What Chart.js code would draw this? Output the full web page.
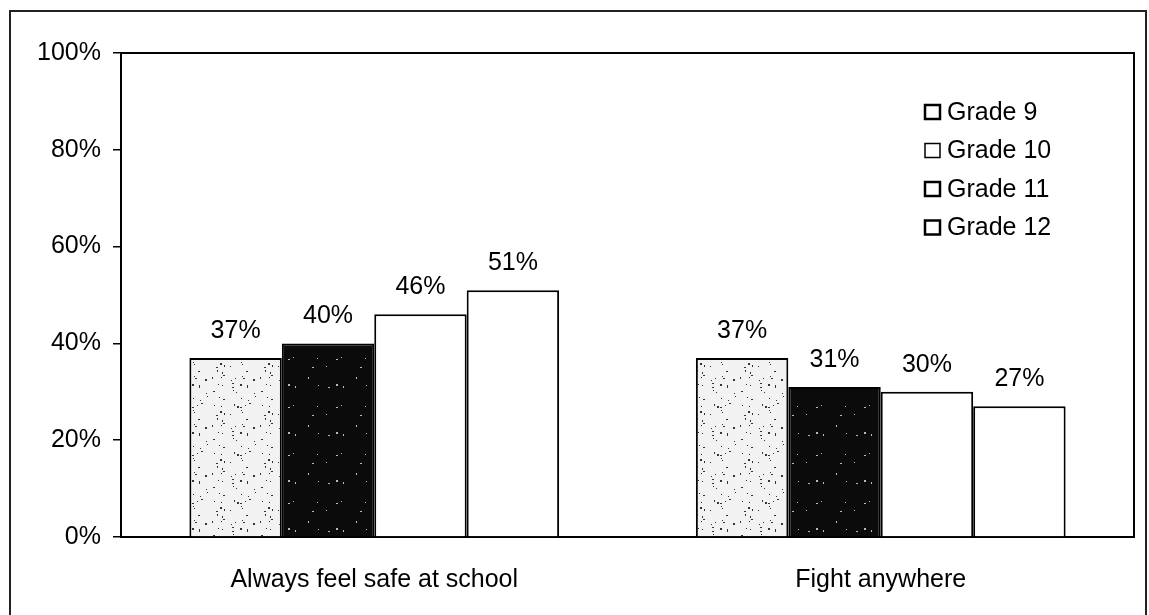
<!DOCTYPE html>
<html>
<head>
<meta charset="utf-8">
<script src="https://cdn.jsdelivr.net/npm/chart.js@4.4.1/dist/chart.umd.min.js"></script>
<style>
  html, body { margin: 0; padding: 0; background: #fff; overflow: hidden; }
  #wrap { position: relative; width: 1149px; height: 615px; }
  #frame { position: absolute; left: 9px; top: 10px; width: 1138px; height: 700px; border: 2px solid #222; box-sizing: border-box; }
  canvas { position: absolute; left: 0; top: 0; }
</style>
</head>
<body>
<div id="wrap">
  <div id="frame"></div>
  <canvas id="c" width="1149" height="615"></canvas>
</div>
<script>
const categories = ['Always feel safe at school', 'Fight anywhere'];
const seriesLabels = ['Grade 9', 'Grade 10', 'Grade 11', 'Grade 12'];
const grade9 = [37, 37];
const grade10 = [40, 31];
const grade11 = [46, 30];
const grade12 = [51, 27];
const yTicks = [0, 20, 40, 60, 80, 100];

function speckle(bg, dot, n) {
  const p = document.createElement('canvas');
  p.width = 48; p.height = 48;
  const g = p.getContext('2d');
  g.fillStyle = bg; g.fillRect(0, 0, 48, 48);
  g.fillStyle = dot;
  for (let i = 0; i < n; i++) {
    const x = (i * 37 + (i * i) % 13) % 48;
    const y = (i * 23 + (i * 7) % 11) % 48;
    g.fillRect(x, y, 1 + (i % 3 === 0 ? 1 : 0), 1 + (i % 4 === 0 ? 1 : 0));
  }
  return g.createPattern(p, 'repeat');
}
const ctx = document.getElementById('c').getContext('2d');
const fills = [speckle('#f2f2f2', '#333', 40), speckle('#0b0b0b', '#bbb', 10), '#ffffff', '#ffffff'];

const FONT = "'Liberation Sans', Arial, sans-serif";

const framePlugin = {
  id: 'framePlugin',
  afterDraw(chart) {
    const a = chart.chartArea, c = chart.ctx;
    c.save();
    c.strokeStyle = '#000'; c.lineWidth = 2;
    c.beginPath();
    c.moveTo(a.left, a.top); c.lineTo(a.right, a.top); c.lineTo(a.right, a.bottom);
    c.stroke();
    c.restore();
  }
};

const valueLabels = {
  id: 'valueLabels',
  afterDatasetsDraw(chart) {
    const c = chart.ctx;
    c.save();
    c.font = '25px ' + FONT; c.fillStyle = '#000';
    c.textAlign = 'center'; c.textBaseline = 'alphabetic';
    chart.data.datasets.forEach((ds, i) => {
      chart.getDatasetMeta(i).data.forEach((bar, j) => {
        c.fillText(ds.data[j] + '%', bar.x, bar.y - 20);
      });
    });
    c.restore();
  }
};

const customLegend = {
  id: 'customLegend',
  afterDraw(chart) {
    const c = chart.ctx;
    c.save();
    c.font = '25px ' + FONT; c.fillStyle = '#000';
    c.textBaseline = 'middle'; c.textAlign = 'left';
    chart.data.datasets.forEach((ds, i) => {
      const y = 112 + i * 38.5;
      c.fillStyle = '#fff';
      c.fillRect(925, y - 7, 15, 14);
      c.strokeStyle = '#000'; c.lineWidth = i === 1 ? 1.5 : 2.5;
      c.strokeRect(925, y - 7, 15, 14);
      c.fillStyle = '#000';
      c.fillText(ds.label, 947, y + 1);
    });
    c.restore();
  }
};

new Chart(ctx, {
  type: 'bar',
  data: {
    labels: categories,
    datasets: [
      { label: seriesLabels[0], data: grade9, backgroundColor: fills[0] },
      { label: seriesLabels[1], data: grade10, backgroundColor: fills[1] },
      { label: seriesLabels[2], data: grade11, backgroundColor: fills[2] },
      { label: seriesLabels[3], data: grade12, backgroundColor: fills[3] }
    ].map(d => Object.assign(d, { borderColor: '#000', borderWidth: 2, borderSkipped: 'bottom', categoryPercentage: 0.73, barPercentage: 1.0 }))
  },
  options: {
    responsive: false,
    animation: false,
    devicePixelRatio: 1,
    layout: { padding: { left: 0, top: 53, right: 15, bottom: 0 } },
    plugins: { legend: { display: false }, tooltip: { enabled: false }, title: { display: false } },
    scales: {
      x: {
        grid: { display: false, drawTicks: false },
        border: { display: true, color: '#000', width: 2 },
        ticks: { color: '#000', font: { size: 25, family: FONT }, padding: 28, maxRotation: 0 },
        afterFit(s) { s.height = 78; }
      },
      y: {
        min: 0, max: 100,
        afterBuildTicks(s) { s.ticks = yTicks.map(v => ({ value: v })); },
        grid: { drawOnChartArea: false, drawTicks: true, tickLength: 8, color: '#000', lineWidth: 1.5 },
        border: { display: true, color: '#000', width: 2 },
        ticks: { color: '#000', font: { size: 25, family: FONT }, padding: 12, callback: v => v + '%' },
        afterFit(s) { s.width = 121; }
      }
    }
  },
  plugins: [framePlugin, valueLabels, customLegend]
});
</script>
</body>
</html>
